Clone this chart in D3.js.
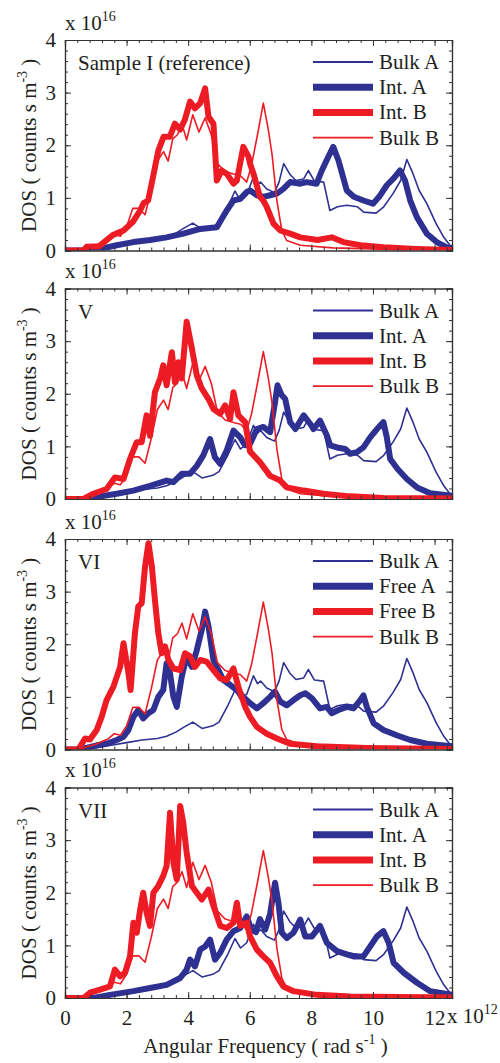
<!DOCTYPE html>
<html>
<head>
<meta charset="utf-8">
<script src="https://cdn.jsdelivr.net/npm/d3@7"></script>
<style>
  body { margin: 0; background: #fff; }
  svg text { font-family: "Liberation Serif", "Times New Roman", Times, "DejaVu Serif", serif !important; fill: #231f20; }
</style>
</head>
<body>
<svg id="chart"></svg>
<script>
// frequency in 1e12 rad/s, DOS in 1e16 counts s m^-3
const bulkA = [[0,0],[0.6,0],[1.0,0.03],[1.5,0.08],[2.0,0.13],[2.5,0.18],[3.0,0.21],[3.3,0.25],[3.6,0.33],[3.85,0.42],[4.15,0.52],[4.45,0.4],[4.8,0.45],[5.0,0.52],[5.3,0.85],[5.52,1.13],[5.7,0.95],[5.9,1.05],[6.12,1.4],[6.25,1.25],[6.35,1.3],[6.55,1.17],[6.8,1.1],[6.95,1.3],[7.1,1.65],[7.3,1.45],[7.5,1.33],[7.75,1.36],[7.9,1.52],[8.1,1.32],[8.4,1.3],[8.6,0.76],[8.85,0.83],[9.15,0.86],[9.5,0.83],[9.7,0.73],[10.1,0.71],[10.35,0.83],[10.65,1.08],[10.9,1.33],[11.1,1.73],[11.3,1.46],[11.5,1.14],[11.75,0.89],[12.05,0.51],[12.3,0.25],[12.5,0.1],[12.57,0.08]];
const bulkB = [[0,0],[0.5,0],[0.7,0.05],[1.0,0.1],[1.2,0.15],[1.4,0.2],[1.6,0.3],[1.8,0.27],[2.0,0.45],[2.2,0.8],[2.4,0.8],[2.6,0.68],[2.8,1.15],[3.0,1.7],[3.2,1.88],[3.35,1.7],[3.5,2.12],[3.65,2.2],[3.8,2.4],[3.95,2.1],[4.15,2.58],[4.35,2.25],[4.55,2.52],[4.75,2.2],[4.95,1.65],[5.2,1.5],[5.5,1.45],[5.7,1.42],[5.9,1.3],[6.05,1.6],[6.25,2.2],[6.44,2.8],[6.6,2.3],[6.72,1.84],[6.88,0.95],[7.04,0.38],[7.2,0.19],[7.64,0.1],[8.7,0.05],[10,0.03],[12.57,0.02]];

const refIntA = [[0,0],[0.9,0],[1.14,0.03],[1.68,0.1],[2.22,0.16],[2.76,0.2],[3.3,0.25],[3.84,0.32],[4.39,0.41],[4.93,0.44],[5.25,0.76],[5.47,0.95],[5.69,0.98],[5.9,1.11],[6.01,1.14],[6.23,1.05],[6.44,1.02],[6.66,1.05],[6.88,1.08],[7.09,1.17],[7.31,1.3],[7.64,1.27],[7.85,1.3],[8.17,1.27],[8.34,1.52],[8.55,1.78],[8.71,1.97],[8.88,1.71],[9.15,1.14],[9.38,1.02],[9.69,0.95],[10.0,0.89],[10.2,1.02],[10.45,1.24],[10.67,1.37],[10.88,1.52],[11.04,1.33],[11.21,0.95],[11.43,0.63],[11.75,0.32],[12.07,0.16],[12.4,0.06],[12.57,0.03]];
const refIntB = [[0,0],[0.6,0],[0.7,0.07],[1.1,0.08],[1.25,0.15],[1.57,0.3],[1.9,0.38],[2.2,0.54],[2.44,0.76],[2.55,0.9],[2.7,0.95],[2.87,1.43],[3.03,1.9],[3.2,2.16],[3.4,2.16],[3.57,2.41],[3.74,2.3],[3.9,2.5],[4.06,2.83],[4.22,2.7],[4.39,2.8],[4.55,3.08],[4.66,2.54],[4.82,2.41],[4.93,1.33],[5.09,1.52],[5.25,1.46],[5.47,1.27],[5.58,1.33],[5.79,1.97],[5.96,1.78],[6.01,1.65],[6.12,1.46],[6.33,1.02],[6.44,0.95],[6.55,0.83],[6.77,0.51],[6.99,0.38],[7.31,0.32],[7.64,0.25],[8.2,0.2],[8.66,0.25],[9.04,0.16],[9.6,0.1],[10.34,0.06],[11.4,0.03],[12.57,0.01]];

const vIntA = [[0,0],[0.8,0],[1.14,0.05],[1.68,0.1],[2.22,0.16],[2.76,0.25],[3.3,0.35],[3.52,0.32],[3.79,0.48],[4.06,0.48],[4.28,0.63],[4.49,0.83],[4.71,1.14],[4.87,0.79],[5.04,0.67],[5.25,0.92],[5.47,1.3],[5.69,1.17],[5.85,1.02],[6.01,1.05],[6.23,1.33],[6.44,1.37],[6.66,1.27],[6.82,1.84],[6.9,2.16],[7.04,1.97],[7.15,1.9],[7.31,1.46],[7.48,1.33],[7.75,1.59],[7.96,1.43],[8.07,1.33],[8.28,1.49],[8.5,1.21],[8.61,1.02],[8.83,0.98],[9.1,0.95],[9.26,0.86],[9.48,0.89],[9.69,0.98],[9.91,1.17],[10.13,1.33],[10.34,1.46],[10.45,1.17],[10.56,0.76],[10.8,0.57],[11.1,0.38],[11.43,0.22],[11.86,0.11],[12.57,0.06]];
const vIntB = [[0,0],[0.6,0],[0.92,0.1],[1.35,0.19],[1.62,0.41],[1.9,0.38],[2.11,0.76],[2.33,1.08],[2.49,1.08],[2.65,1.59],[2.76,1.2],[2.92,2.03],[3.09,2.29],[3.19,2.54],[3.3,2.16],[3.47,2.79],[3.57,2.22],[3.68,2.6],[3.79,2.29],[3.95,3.37],[4.12,2.86],[4.28,2.35],[4.44,2.1],[4.66,1.9],[4.82,1.71],[5.04,1.62],[5.2,1.78],[5.36,1.52],[5.47,2.03],[5.63,1.59],[5.85,1.46],[6.01,0.9],[6.33,0.7],[6.66,0.44],[6.99,0.35],[7.2,0.22],[7.75,0.16],[8.39,0.1],[9.26,0.05],[10.34,0.02],[12.57,0.01]];

const viFreeA = [[0,0],[0.49,0],[1.03,0.08],[1.35,0.11],[1.68,0.18],[1.9,0.24],[2.06,0.37],[2.22,0.62],[2.38,0.75],[2.54,0.59],[2.71,0.69],[2.87,0.75],[3.03,1.0],[3.19,1.13],[3.3,1.64],[3.41,1.45],[3.52,1.0],[3.63,0.81],[3.79,1.38],[3.95,1.77],[4.12,1.57],[4.28,1.89],[4.44,2.27],[4.55,2.62],[4.66,2.34],[4.82,1.7],[4.98,1.51],[5.14,1.32],[5.36,1.23],[5.58,1.13],[5.79,1.0],[6.01,0.88],[6.23,0.78],[6.44,0.88],[6.66,1.0],[6.82,1.1],[6.99,0.91],[7.2,0.84],[7.42,0.94],[7.64,1.03],[7.8,1.07],[8.02,0.97],[8.28,0.78],[8.5,0.81],[8.66,0.69],[8.88,0.75],[9.15,0.81],[9.37,0.78],[9.59,0.94],[9.69,1.03],[9.8,0.81],[10.02,0.5],[10.34,0.37],[10.77,0.27],[11.21,0.18],[11.75,0.11],[12.57,0.06]];
const viFreeB = [[0,0],[0.4,0],[0.49,0.05],[0.65,0.21],[0.81,0.19],[1.03,0.37],[1.19,0.62],[1.35,0.94],[1.57,1.19],[1.79,1.57],[1.9,2.02],[2.06,1.45],[2.13,1.13],[2.27,2.21],[2.38,2.72],[2.49,2.78],[2.6,3.48],[2.71,3.92],[2.82,3.48],[2.92,2.84],[3.03,2.21],[3.14,1.83],[3.25,1.96],[3.36,1.7],[3.52,1.54],[3.74,1.51],[3.9,1.83],[4.06,1.77],[4.22,1.57],[4.39,1.7],[4.6,1.67],[4.82,1.51],[5.04,1.35],[5.25,1.32],[5.47,1.54],[5.63,1.19],[5.85,0.81],[6.01,0.62],[6.23,0.43],[6.55,0.3],[6.88,0.21],[7.31,0.11],[8.18,0.06],[9.8,0.03],[12.57,0.01]];

const viiIntA = [[0,0],[0.92,0],[1.46,0.06],[2.22,0.13],[2.76,0.19],[3.3,0.25],[3.74,0.38],[3.95,0.54],[4.06,0.73],[4.22,0.6],[4.39,0.92],[4.55,0.98],[4.71,1.11],[4.87,0.73],[5.04,0.86],[5.25,1.11],[5.47,1.27],[5.69,1.33],[5.9,1.55],[6.05,1.3],[6.2,1.25],[6.33,1.5],[6.5,1.3],[6.66,1.6],[6.82,2.19],[6.93,1.81],[7.04,1.24],[7.2,1.14],[7.42,1.24],[7.64,1.49],[7.8,1.17],[8.02,1.17],[8.28,1.37],[8.5,1.05],[8.83,0.89],[9.15,0.83],[9.37,0.79],[9.69,0.79],[9.91,0.98],[10.13,1.17],[10.34,1.27],[10.51,1.05],[10.67,0.67],[11.0,0.48],[11.43,0.29],[11.86,0.13],[12.57,0.06]];
const viiIntB = [[0,0],[0.6,0],[0.81,0.1],[1.14,0.16],[1.46,0.22],[1.62,0.54],[1.79,0.41],[1.95,0.48],[2.11,0.79],[2.22,1.43],[2.33,1.24],[2.44,1.68],[2.54,2.0],[2.65,1.62],[2.76,1.37],[2.87,2.0],[3.03,2.13],[3.19,2.32],[3.3,2.51],[3.41,3.52],[3.52,2.57],[3.63,2.25],[3.74,3.65],[3.84,3.33],[3.95,2.76],[4.12,2.13],[4.28,2.0],[4.44,1.87],[4.66,2.06],[4.82,1.75],[5.04,1.37],[5.25,1.33],[5.47,1.43],[5.58,1.81],[5.69,1.37],[5.9,1.43],[6.01,1.17],[6.23,0.92],[6.44,0.79],[6.66,0.67],[6.88,0.41],[7.09,0.22],[7.42,0.13],[8.18,0.06],[9.26,0.03],[12.57,0.01]];

const panelLabels = ["Sample I (reference)", "V", "VI", "VII"];
const legendNames = [
  ["Bulk A", "Int. A", "Int. B", "Bulk B"],
  ["Bulk A", "Int. A", "Int. B", "Bulk B"],
  ["Bulk A", "Free A", "Free B", "Bulk B"],
  ["Bulk A", "Int. A", "Int. B", "Bulk B"]
];
const thickA = [refIntA, vIntA, viFreeA, viiIntA];
const thickB = [refIntB, vIntB, viFreeB, viiIntB];
const xTicks = [0, 2, 4, 6, 8, 10, 12];
const yTicks = [0, 1, 2, 3, 4];

const width = 500, height = 1063;
const left = 65, right = 452, plotH = 210.5;
const tops = [40, 288.5, 539, 787.5];
const blue = "#2e3192", red = "#ed1c24", axisColor = "#333";
const serif = '"Liberation Serif", "Times New Roman", Times, "DejaVu Serif", serif';

const svg = d3.select("#chart").attr("width", width).attr("height", height);

const x = d3.scaleLinear().domain([0, 4 * Math.PI]).range([left, right]);
const xMinor = d3.range(0, 12.6, 0.4);
const yMinor = d3.range(0, 4.01, 0.2);

tops.forEach((top, i) => {
  const y = d3.scaleLinear().domain([0, 4]).range([top + plotH, top]);
  const g = svg.append("g");

  g.append("clipPath").attr("id", "clip" + i)
    .append("rect").attr("x", left).attr("y", top).attr("width", right - left).attr("height", plotH);

  const line = d3.line().x(d => x(d[0])).y(d => y(d[1]));
  const series = [
    { data: bulkA, color: blue, w: 1.6 },
    { data: thickA[i], color: blue, w: 6 },
    { data: thickB[i], color: red, w: 6 },
    { data: bulkB, color: red, w: 1.6 }
  ];
  series.forEach(s => {
    g.append("path")
      .datum(s.data)
      .attr("clip-path", `url(#clip${i})`)
      .attr("fill", "none")
      .attr("stroke", s.color)
      .attr("stroke-width", s.w)
      .attr("stroke-linejoin", "round")
      .attr("stroke-linecap", "round")
      .attr("d", line);
  });

  // box and inward ticks on all sides
  g.append("g").attr("transform", `translate(0,${top + plotH})`)
    .call(d3.axisBottom(x).tickValues(xTicks).tickSize(-6).tickPadding(12)
      .tickFormat(i === 3 ? d3.format("d") : ""));
  g.append("g").attr("transform", `translate(0,${top})`)
    .call(d3.axisTop(x).tickValues(xTicks).tickSize(-6).tickFormat(""));
  g.append("g").attr("transform", `translate(${left},0)`)
    .call(d3.axisLeft(y).tickValues(yTicks).tickSize(-6).tickPadding(9).tickFormat(d3.format("d")));
  g.append("g").attr("transform", `translate(${right},0)`)
    .call(d3.axisRight(y).tickValues(yTicks).tickSize(-6).tickFormat(""));

  g.append("g").attr("transform", `translate(0,${top + plotH})`)
    .call(d3.axisBottom(x).tickValues(xMinor).tickSize(-3).tickFormat(""));
  g.append("g").attr("transform", `translate(0,${top})`)
    .call(d3.axisTop(x).tickValues(xMinor).tickSize(-3).tickFormat(""));
  g.append("g").attr("transform", `translate(${left},0)`)
    .call(d3.axisLeft(y).tickValues(yMinor).tickSize(-3).tickFormat(""));
  g.append("g").attr("transform", `translate(${right},0)`)
    .call(d3.axisRight(y).tickValues(yMinor).tickSize(-3).tickFormat(""));

  g.selectAll("g").attr("font-family", serif);
  g.selectAll(".domain").attr("stroke", axisColor).attr("stroke-width", 1.2);
  g.selectAll(".tick line").attr("stroke", axisColor).attr("stroke-width", 1);
  g.selectAll(".tick text").attr("font-family", serif)
    .attr("font-size", 21).attr("fill", "#231f20");

  // x 10^16 multiplier
  const mult = g.append("text").attr("x", left).attr("y", top - 10.5)
    .attr("font-family", serif).attr("font-size", 21);
  mult.append("tspan").text("x 10");
  mult.append("tspan").attr("dy", -9).attr("font-size", 14).text("16");

  // y label
  const yl = g.append("text")
    .attr("transform", `translate(36,${top + plotH / 2}) rotate(-90)`)
    .attr("text-anchor", "middle").attr("font-family", serif).attr("font-size", 21);
  yl.append("tspan").text("DOS ( counts s m");
  yl.append("tspan").attr("dy", -9).attr("font-size", 14).text("-3");
  yl.append("tspan").attr("dy", 9).text(" )");

  // panel label
  g.append("text").attr("x", 78).attr("y", top + 30)
    .attr("font-family", serif).attr("font-size", 21).text(panelLabels[i]);

  // legend
  const legendStyles = [
    { color: blue, w: 1.8 }, { color: blue, w: 7 }, { color: red, w: 7 }, { color: red, w: 1.8 }
  ];
  legendNames[i].forEach((name, k) => {
    const ly = top + 22 + k * 25.2;
    g.append("line").attr("x1", 313).attr("x2", 373).attr("y1", ly).attr("y2", ly)
      .attr("stroke", legendStyles[k].color).attr("stroke-width", legendStyles[k].w);
    g.append("text").attr("x", 379).attr("y", ly + 7)
      .attr("font-family", serif).attr("font-size", 21).text(name);
  });
});

// x exponent and x label
const xm = svg.append("text").attr("x", 447).attr("y", 1023)
  .attr("font-family", serif).attr("font-size", 21);
xm.append("tspan").text("x 10");
xm.append("tspan").attr("dy", -9).attr("font-size", 14).text("12");

const xl = svg.append("text").attr("x", (left + right) / 2 + 7).attr("y", 1053)
  .attr("text-anchor", "middle").attr("font-family", serif).attr("font-size", 21);
xl.append("tspan").text("Angular Frequency ( rad s");
xl.append("tspan").attr("dy", -9).attr("font-size", 14).text("-1");
xl.append("tspan").attr("dy", 9).text(" )");
</script>
</body>
</html>
